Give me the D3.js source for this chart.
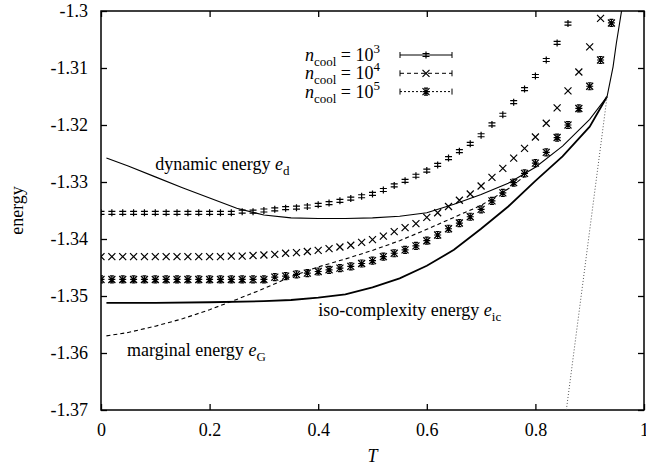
<!DOCTYPE html>
<html>
<head>
<meta charset="utf-8">
<script src="https://cdn.jsdelivr.net/npm/d3@7"></script>
<style>
  body { margin: 0; background: #fff; }
  svg text { font-family: "Liberation Serif", "DejaVu Serif", serif; fill: #000; }
</style>
</head>
<body>
<svg id="chart" width="646" height="465"></svg>
<script>
// temperature grid of the simulation points
const tGrid = [0, 0.02, 0.04, 0.06, 0.08, 0.10, 0.12, 0.14, 0.16, 0.18,
  0.20, 0.22, 0.24, 0.26, 0.28, 0.30, 0.32, 0.34, 0.36, 0.38,
  0.40, 0.42, 0.44, 0.46, 0.48, 0.50, 0.52, 0.54, 0.56, 0.58,
  0.60, 0.62, 0.64, 0.66, 0.68, 0.70, 0.72, 0.74, 0.76, 0.78,
  0.80, 0.82, 0.84, 0.86, 0.88, 0.90, 0.92, 0.94];

// n_cool = 10^3
const cool3 = [-1.3354, -1.3354, -1.3354, -1.3354, -1.3354, -1.3354, -1.3354, -1.3354, -1.3354, -1.3354,
  -1.3354, -1.3354, -1.3354, -1.3352, -1.3352, -1.3350, -1.3348, -1.3346, -1.3345, -1.3343,
  -1.3340, -1.3337, -1.3333, -1.3329, -1.3325, -1.3321, -1.3314, -1.3306, -1.3298, -1.3289,
  -1.3280, -1.3270, -1.3258, -1.3246, -1.3233, -1.3218, -1.3199, -1.3182, -1.3160, -1.3137,
  -1.3114, -1.3086, -1.3056, -1.3022];
// n_cool = 10^4
const cool4 = [-1.3431, -1.3431, -1.3431, -1.3431, -1.3431, -1.3431, -1.3431, -1.3431, -1.3431, -1.3431,
  -1.3431, -1.3431, -1.3430, -1.3430, -1.3429, -1.3428, -1.3427, -1.3425, -1.3424, -1.3422,
  -1.3420, -1.3417, -1.3414, -1.3411, -1.3406, -1.3401, -1.3395, -1.3387, -1.3380, -1.3373,
  -1.3362, -1.3354, -1.3343, -1.3332, -1.3321, -1.3307, -1.3292, -1.3276, -1.3258, -1.3241,
  -1.3221, -1.3197, -1.3170, -1.3140, -1.3107, -1.3063, -1.3013];
// n_cool = 10^5
const cool5 = [-1.3471, -1.3471, -1.3471, -1.3471, -1.3471, -1.3471, -1.3471, -1.3471, -1.3471, -1.3471,
  -1.3471, -1.3471, -1.3471, -1.3471, -1.3471, -1.3471, -1.3467, -1.3465, -1.3462, -1.3460,
  -1.3457, -1.3454, -1.3451, -1.3448, -1.3443, -1.3438, -1.3431, -1.3425, -1.3419, -1.3412,
  -1.3403, -1.3393, -1.3382, -1.3372, -1.3361, -1.3348, -1.3333, -1.3319, -1.3301, -1.3285,
  -1.3267, -1.3248, -1.3222, -1.3200, -1.3171, -1.3132, -1.3086, -1.3021];

// analytic curves
const edT = [0.01, 0.05, 0.10, 0.15, 0.20, 0.25, 0.30, 0.35, 0.40, 0.45, 0.50, 0.55, 0.60, 0.65,
  0.70, 0.75, 0.80, 0.85, 0.90, 0.932, 0.943, 0.949, 0.959];
const edV = [-1.3258, -1.3272, -1.3291, -1.3310, -1.3328, -1.3346, -1.3358, -1.3363, -1.3364, -1.3364,
  -1.3363, -1.3360, -1.3354, -1.3339, -1.3322, -1.3302, -1.3274, -1.3237, -1.3190, -1.3150,
  -1.3098, -1.3057, -1.2998];
const egT = [0.01, 0.05, 0.10, 0.15, 0.20, 0.25, 0.30, 0.35, 0.40, 0.45, 0.50, 0.55, 0.60, 0.65,
  0.70, 0.75, 0.78];
const egV = [-1.3570, -1.3564, -1.3553, -1.3540, -1.3524, -1.3506, -1.3487, -1.3466, -1.3449, -1.3435,
  -1.3420, -1.3403, -1.3383, -1.3362, -1.3341, -1.3312, -1.3290];
const eicT = [0.01, 0.10, 0.20, 0.30, 0.35, 0.40, 0.45, 0.50, 0.55, 0.60, 0.65, 0.70, 0.75, 0.80,
  0.85, 0.90, 0.932];
const eicV = [-1.3512, -1.3512, -1.3511, -1.3509, -1.3507, -1.3503, -1.3497, -1.3485, -1.3469, -1.3447,
  -1.3419, -1.3382, -1.3343, -1.3298, -1.3255, -1.3203, -1.3150];
const dotT = [0.932, 0.857];
const dotV = [-1.3150, -1.3700];

const xTicks = [0, 0.2, 0.4, 0.6, 0.8, 1];
const xTickLabels = ['0', '0.2', '0.4', '0.6', '0.8', '1'];
const yTicks = [-1.37, -1.36, -1.35, -1.34, -1.33, -1.32, -1.31, -1.3];
const yTickLabels = ['-1.37', '-1.36', '-1.35', '-1.34', '-1.33', '-1.32', '-1.31', '-1.3'];

const legendExps = ['3', '4', '5'];
const notes = [
  {text: 'dynamic energy ', sym: 'e', sub: 'd', t: 0.1, v: -1.3279},
  {text: 'iso-complexity energy ', sym: 'e', sub: 'ic', t: 0.4, v: -1.3535},
  {text: 'marginal energy ', sym: 'e', sub: 'G', t: 0.048, v: -1.3605}
];

const FS = 18;
const svg = d3.select('#chart');
const x = d3.scaleLinear().domain([0, 1]).range([101, 644]);
const y = d3.scaleLinear().domain([-1.37, -1.3]).range([410, 11]);

svg.append('defs').append('clipPath').attr('id', 'plot')
  .append('rect')
  .attr('x', x(0)).attr('y', y(-1.3))
  .attr('width', x(1) - x(0)).attr('height', y(-1.37) - y(-1.3));

// axes, ticks inward on all four sides
function styleAxis(g) {
  g.select('.domain').remove();
  g.selectAll('line').attr('stroke', '#000').attr('stroke-width', 1.3);
  g.selectAll('text').attr('font-family', null).attr('font-size', FS);
  g.attr('font-family', null);
}
svg.append('g').attr('transform', `translate(0,${y(-1.37)})`)
  .call(d3.axisBottom(x).tickValues(xTicks).tickSize(-6).tickPadding(13)
    .tickFormat((d, i) => xTickLabels[i]))
  .call(styleAxis);
svg.append('g').attr('transform', `translate(0,${y(-1.3)})`)
  .call(d3.axisTop(x).tickValues(xTicks).tickSize(-6).tickFormat(''))
  .call(styleAxis);
svg.append('g').attr('transform', `translate(${x(0)},0)`)
  .call(d3.axisLeft(y).tickValues(yTicks).tickSize(-6).tickPadding(13)
    .tickFormat((d, i) => yTickLabels[i]))
  .call(styleAxis);
svg.append('g').attr('transform', `translate(${x(1)},0)`)
  .call(d3.axisRight(y).tickValues(yTicks).tickSize(-6).tickFormat(''))
  .call(styleAxis);

svg.append('rect')
  .attr('x', x(0)).attr('y', y(-1.3))
  .attr('width', x(1) - x(0)).attr('height', y(-1.37) - y(-1.3))
  .attr('fill', 'none').attr('stroke', '#000').attr('stroke-width', 1.5);

svg.append('text').attr('x', (x(0) + x(1)) / 2).attr('y', 462)
  .attr('text-anchor', 'middle').attr('font-size', FS).attr('font-style', 'italic').text('T');
svg.append('text').attr('transform', `translate(23,${(y(-1.3) + y(-1.37)) / 2}) rotate(-90)`)
  .attr('text-anchor', 'middle').attr('font-size', FS).text('energy');

// curves
const plot = svg.append('g').attr('clip-path', 'url(#plot)');
const line = d3.line().x(d => x(d[0])).y(d => y(d[1]));
const zip = (a, b) => a.map((t, i) => [t, b[i]]);

plot.append('path').datum(zip(edT, edV)).attr('d', line)
  .attr('fill', 'none').attr('stroke', '#000').attr('stroke-width', 1.1);
plot.append('path').datum(zip(eicT, eicV)).attr('d', line)
  .attr('fill', 'none').attr('stroke', '#000').attr('stroke-width', 1.8);
plot.append('path').datum(zip(egT, egV)).attr('d', line)
  .attr('fill', 'none').attr('stroke', '#000').attr('stroke-width', 1.1)
  .attr('stroke-dasharray', '4,3');
plot.append('path').datum(zip(dotT, dotV)).attr('d', line)
  .attr('fill', 'none').attr('stroke', '#555').attr('stroke-width', 1)
  .attr('stroke-dasharray', '1,2');

// markers (point + small error bar caps, as gnuplot draws them)
function marker(kind) {
  const s = 3.5;
  if (kind === 'plus') {
    return `M0,${-s}V${s}M${-s},-1.5H${s}M${-s},1.5H${s}`;
  }
  if (kind === 'times') {
    return `M${-s},${-s}L${s},${s}M${-s},${s}L${s},${-s}`;
  }
  return `M${-s},${-s}L${s},${s}M${-s},${s}L${s},${-s}M0,${-s}V${s}M${-s},0H${s}M-2,${-s}H2M-2,${s}H2`;
}

const pointSeries = [
  {vals: cool3, kind: 'plus'},
  {vals: cool4, kind: 'times'},
  {vals: cool5, kind: 'star'}
];
pointSeries.forEach(s => {
  plot.append('g').selectAll('path')
    .data(zip(tGrid.slice(0, s.vals.length), s.vals))
    .enter().append('path')
    .attr('transform', d => `translate(${x(d[0])},${y(d[1])})`)
    .attr('d', marker(s.kind))
    .attr('fill', 'none').attr('stroke', '#000').attr('stroke-width', 1.2);
});

// legend
const dashes = [null, '4,3', '2,2'];
const legend = svg.append('g');
legendExps.forEach((e, i) => {
  const ly = 55 + i * 18.3;
  const t = legend.append('text').attr('x', 380).attr('y', ly + 6)
    .attr('text-anchor', 'end').attr('font-size', FS);
  t.append('tspan').attr('font-style', 'italic').text('n');
  t.append('tspan').attr('dy', 5).attr('font-size', 13).text('cool');
  t.append('tspan').attr('dy', -5).text(' = 10');
  t.append('tspan').attr('dy', -8).attr('font-size', 13).text(e);
  legend.append('line').attr('x1', 400).attr('x2', 452).attr('y1', ly).attr('y2', ly)
    .attr('stroke', '#000').attr('stroke-width', 1).attr('stroke-dasharray', dashes[i]);
  [400, 452].forEach(cx => legend.append('line')
    .attr('x1', cx).attr('x2', cx).attr('y1', ly - 3).attr('y2', ly + 3)
    .attr('stroke', '#000').attr('stroke-width', 1));
  legend.append('path').attr('transform', `translate(426,${ly})`)
    .attr('d', marker(pointSeries[i].kind))
    .attr('fill', 'none').attr('stroke', '#000').attr('stroke-width', 1.2);
});

// curve labels
notes.forEach(n => {
  const t = svg.append('text').attr('x', x(n.t)).attr('y', y(n.v)).attr('font-size', FS);
  t.append('tspan').text(n.text);
  t.append('tspan').attr('font-style', 'italic').text(n.sym);
  t.append('tspan').attr('dy', 5).attr('font-size', 13).text(n.sub);
});
</script>
</body>
</html>
